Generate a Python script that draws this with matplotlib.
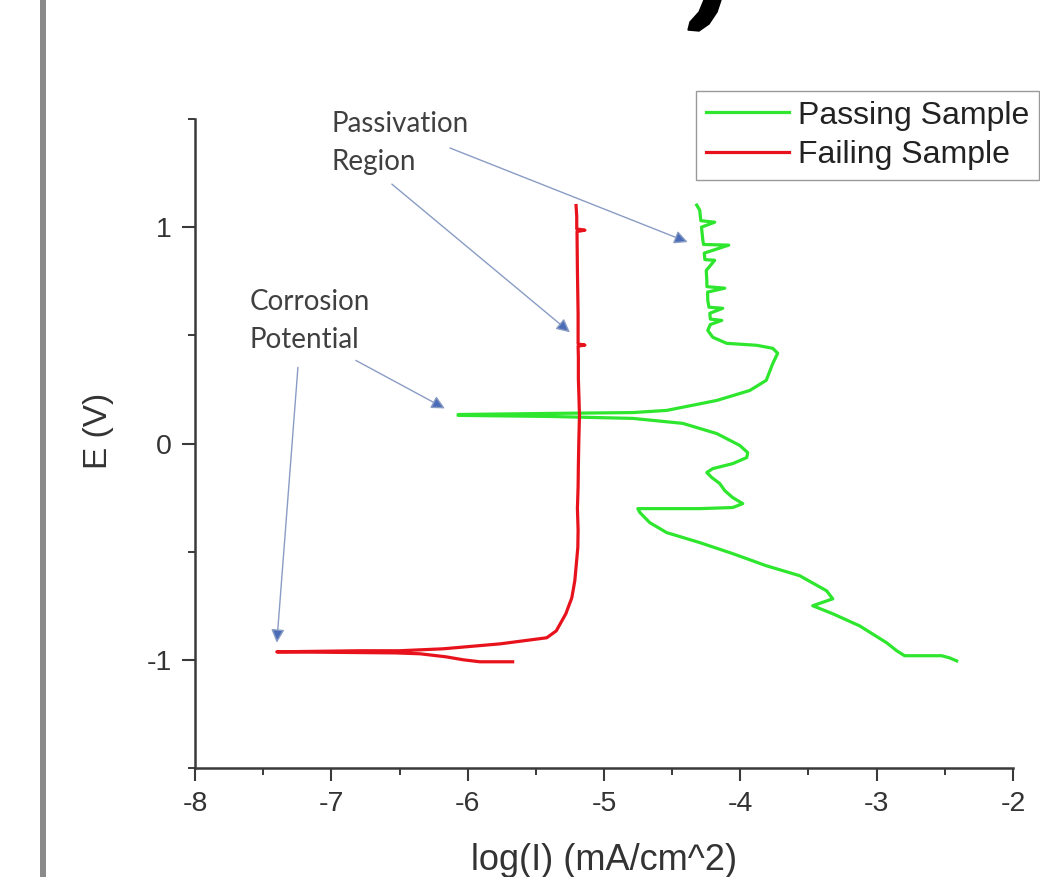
import matplotlib
matplotlib.use("Agg")
import matplotlib.pyplot as plt
from matplotlib.ticker import MultipleLocator
from matplotlib.patches import Rectangle, Polygon

# ---------------- data ----------------
# Passing sample (green): potentiodynamic scan, E increasing
pass_logI = [-2.413, -2.465, -2.523, -2.795, -2.853, -2.927, -3.125, -3.322, -3.469,
             -3.322, -3.367, -3.565, -3.810, -4.056, -4.298, -4.540, -4.664, -4.737,
             -4.752, -4.298, -4.056, -3.982, -4.056, -4.114, -4.151, -4.210, -4.246,
             -4.202, -4.056, -3.953, -3.946, -4.004, -4.173, -4.422, -4.789, -5.397,
             -6.070,
             -6.070, -5.397, -4.789, -4.540, -4.173, -3.931, -3.810, -3.762, -3.726,
             -3.762, -3.880, -4.100, -4.202, -4.239,
             -4.220, -4.136, -4.220, -4.224, -4.129, -4.230, -4.239, -4.240, -4.114,
             -4.245, -4.246, -4.250, -4.188, -4.260, -4.265, -4.085, -4.270, -4.275,
             -4.285, -4.188, -4.290, -4.298, -4.320]
pass_E = [-1.005, -0.991, -0.981, -0.981, -0.958, -0.921, -0.843, -0.787, -0.750,
          -0.718, -0.681, -0.611, -0.565, -0.509, -0.458, -0.412, -0.366, -0.319,
          -0.301, -0.301, -0.296, -0.278, -0.250, -0.218, -0.185, -0.157, -0.134,
          -0.116, -0.093, -0.065, -0.042, -0.009, 0.046, 0.093, 0.116, 0.125,
          0.130,
          0.134, 0.139, 0.143, 0.153, 0.199, 0.245, 0.292, 0.370, 0.417,
          0.440, 0.454, 0.463, 0.491, 0.523,
          0.550, 0.569, 0.575, 0.602, 0.625, 0.630, 0.662, 0.700, 0.718,
          0.725, 0.755, 0.800, 0.847, 0.850, 0.880, 0.917, 0.920, 0.940,
          1.000, 1.023, 1.030, 1.079, 1.102]

# Failing sample (red)
fail_logI = [-5.67, -5.91, -6.03, -6.16, -6.35, -6.53, -7.40,
             -6.79, -6.50, -6.18, -5.76, -5.42, -5.35, -5.28, -5.236, -5.214,
             -5.192, -5.190, -5.195, -5.190, -5.188, -5.185, -5.180, -5.183,
             -5.188, -5.188, -5.190, -5.140, -5.190, -5.190, -5.195, -5.198,
             -5.140, -5.200, -5.200, -5.205]
fail_E = [-1.009, -1.009, -1.000, -0.986, -0.972, -0.968, -0.963,
          -0.958, -0.958, -0.949, -0.926, -0.898, -0.866, -0.787, -0.713, -0.634,
          -0.481, -0.400, -0.300, -0.200, -0.100, 0.000, 0.130, 0.200,
          0.300, 0.400, 0.450, 0.455, 0.460, 0.600, 0.800, 0.980,
          0.986, 0.992, 1.050, 1.100]

series_labels = ["Passing Sample", "Failing Sample"]
x_ticks = [-8, -7, -6, -5, -4, -3, -2]
y_ticks = [-1, 0, 1]

# annotation texts and arrow (start, end) in data units
ann_passivation = "Passivation\nRegion"
ann_corrosion = "Corrosion\nPotential"
arrows = [((-6.13, 1.366), (-4.386, 0.931)),
          ((-6.556, 1.199), (-5.25, 0.514)),
          ((-6.82, 0.384), (-6.167, 0.162)),
          ((-7.245, 0.352), (-7.40, -0.921))]

# ---------------- figure ----------------
W, H = 1040, 877
fig = plt.figure(figsize=(W / 100, H / 100), dpi=100)
ax = fig.add_axes([195 / W, 1 - 768 / H, (1013 - 195) / W, (768 - 119) / H])

green = "#2ee62e"
red = "#e8121c"
ax.plot(pass_logI, pass_E, color=green, lw=2.3, label=series_labels[0],
        solid_joinstyle="round", zorder=3)
ax.plot(fail_logI, fail_E, color=red, lw=2.3, label=series_labels[1],
        solid_joinstyle="round", zorder=3)

ax.set_xlim(-8, -2)
ax.set_ylim(-1.5, 1.5)
ax.set_xticks(x_ticks)
ax.set_yticks(y_ticks)
ax.set_xticklabels([str(v) for v in x_ticks])
ax.set_yticklabels([str(v) for v in y_ticks])
ax.xaxis.set_minor_locator(MultipleLocator(0.5))
ax.yaxis.set_minor_locator(MultipleLocator(0.5))

for s in ("top", "right"):
    ax.spines[s].set_visible(False)
for s in ("left", "bottom"):
    ax.spines[s].set_color("#3a3a3a")
    ax.spines[s].set_linewidth(1.8)

font = "Liberation Sans"
ax.tick_params(which="major", direction="out", length=9.5, width=1.5,
               color="#3a3a3a", labelsize=20.5, labelcolor="#333333", pad=7)
ax.tick_params(which="minor", direction="out", length=5, width=1.4, color="#3a3a3a")
for lab in ax.get_xticklabels() + ax.get_yticklabels():
    lab.set_fontfamily(font)

ax.set_xlabel("log(I) (mA/cm^2)", fontsize=26, family=font, color="#333333", labelpad=19)
ax.set_ylabel("E (V)", fontsize=24, family=font, color="#333333", labelpad=24)
ax.yaxis.label.set_y(0.52)

# annotations
txt_kw = dict(fontsize=20, family="Lato", color="#404040", va="top", ha="left",
              linespacing=1.55, clip_on=False)
ax.text(-7.0, 1.535, ann_passivation, **txt_kw)
ax.text(-7.597, 0.712, ann_corrosion, **txt_kw)
for (x0, y0), (x1, y1) in arrows:
    ax.annotate("", xy=(x1, y1), xytext=(x0, y0), annotation_clip=False,
                arrowprops=dict(arrowstyle="-|>", edgecolor="#8a9cc4",
                                facecolor="#4b6db8", lw=1.0, mutation_scale=20,
                                shrinkA=0, shrinkB=0))

# legend
leg = ax.legend(loc="upper left", bbox_to_anchor=(696 / W, 1 - 91 / H),
                bbox_transform=fig.transFigure, prop=dict(family=font, size=23),
                frameon=True, fancybox=False, framealpha=1, edgecolor="#9a9a9a",
                borderpad=0.3, handlelength=2.6, handletextpad=0.3,
                labelspacing=0.3, borderaxespad=0)
leg.get_frame().set_linewidth(1.0)
for t in leg.get_texts():
    t.set_color("#222222")

# decorations: vertical grey bar and black fragment at top
fig.add_artist(Rectangle((40 / W, 0), 6 / W, 1, transform=fig.transFigure,
                         facecolor="#8a8a8a", edgecolor="none"))
blob = [(704, 0), (721, 0), (717, 12), (709, 24), (699, 31), (688, 30), (690, 22), (699, 12)]
fig.add_artist(Polygon([(x / W, 1 - y / H) for x, y in blob], closed=True,
                       transform=fig.transFigure, facecolor="black", edgecolor="black"))

fig.savefig("out.png", dpi=100)
